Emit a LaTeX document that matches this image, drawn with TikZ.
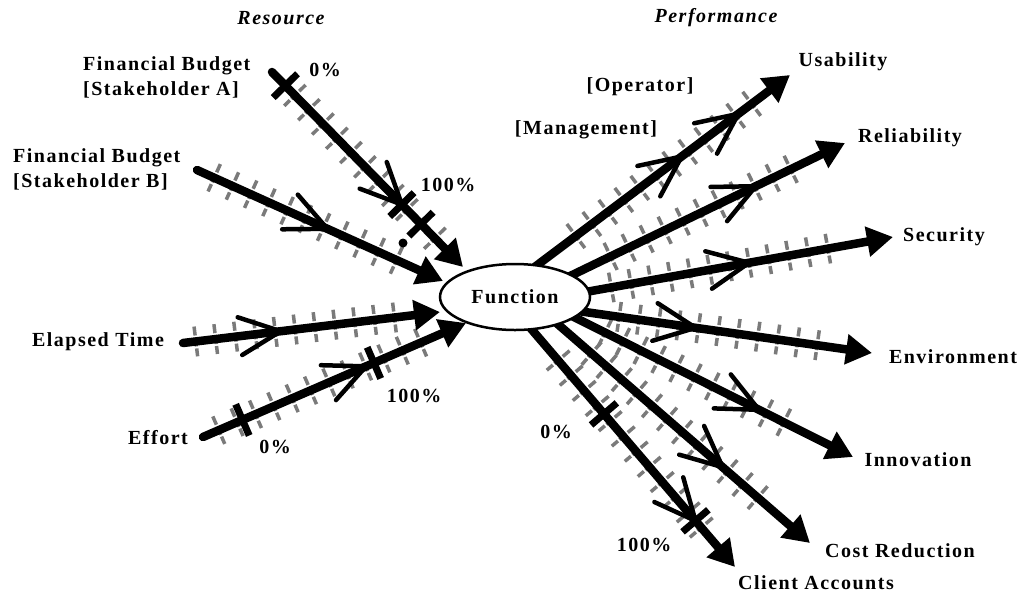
\documentclass[tikz,border=0pt]{standalone}
\usepackage{fontspec}
\setmainfont{Liberation Serif}[LetterSpace=7.5]
\usetikzlibrary{arrows.meta}
\usetikzlibrary{shapes.geometric}
\usetikzlibrary{decorations.markings}

\begin{document}
\begin{tikzpicture}[
        x=1pt, y=-1pt, % pixel-like units, y downwards
        font=\fontsize{20}{25}\selectfont\bfseries,
        % --- styles ---
        lbl/.style={inner sep=0pt},
        headline/.style={inner sep=0pt, font=\fontsize{20}{25}\selectfont\bfseries\itshape},
        axis/.style={line width=8.5pt, line cap=round, -{Triangle[length=26pt, width=29pt]}},
        tickmark/.style={-, black!52, line width=3.5pt, dash pattern=on 9pt off 2pt},
        ticks/.style 2 args={postaction={decorate, decoration={markings,
            mark=between positions #1 and #2 step 20pt with {\draw[tickmark] (0,-15) -- (0,15);}}}},
        chevron/.style={postaction={decorate, decoration={markings,
            mark=at position #1 with {\draw[-, line width=4.5pt, line cap=round, miter limit=20] (-41,-19) -- (0,0) -- (-41,19);}}}},
        crossbar/.style={postaction={decorate, decoration={markings,
            mark=at position #1 with {\draw[-, line width=7pt] (0,-17) -- (0,17);}}}},
        funcbox/.style={ellipse, draw, line width=2.5pt, fill=white, minimum width=150pt, minimum height=66pt, inner sep=0pt},
    ]
    \useasboundingbox (0,0) rectangle (1022,598);

    % --- end points of the axes ---
    \coordinate (fbA0) at (272,72);  \coordinate (fbA1) at (463,267);
    \coordinate (fbB0) at (197,170); \coordinate (fbB1) at (443,281);
    \coordinate (time0) at (183,343); \coordinate (time1) at (440,312);
    \coordinate (eff0) at (203,437); \coordinate (eff1) at (466,323);
    \coordinate (use0) at (532,269); \coordinate (use1) at (790,75);
    \coordinate (rel0) at (566,278); \coordinate (rel1) at (845,143);
    \coordinate (sec0) at (580,293); \coordinate (sec1) at (893,237);
    \coordinate (env0) at (578,311); \coordinate (env1) at (872,353);
    \coordinate (inn0) at (568,314); \coordinate (inn1) at (853,457);
    \coordinate (cost0) at (553,320); \coordinate (cost1) at (810,543);
    \coordinate (cli0) at (527,324); \coordinate (cli1) at (735,567);

    % --- grey scales under the axes ---
    \foreach \s/\ta/\tb in {fbA/0.12/0.87, fbB/0.07/0.88, time/0.05/0.84, eff/0.06/0.83,
                           use/0.17/0.87, rel/0.16/0.84, sec/0.1/0.8, env/0.14/0.86,
                           inn/0.13/0.8, cost/0.15/0.81, cli/0.15/0.89} {
        \path[ticks={\ta}{\tb}] (\s0) -- (\s1);
    }

    % --- axes with direction marks ---
    \foreach \s/\c in {fbA/0.68, fbB/0.53, time/0.38, eff/0.62, use/0.8, rel/0.68,
                      sec/0.54, env/0.4, inn/0.67, cost/0.66, cli/0.81} {
        \draw[axis] (\s0) -- (\s1);
        \path[chevron=\c] (\s0) -- (\s1);
    }
    \path[chevron=0.58] (use0) -- (use1);

    % --- 0% and 100% marks ---
    \path[crossbar=0.07, crossbar=0.68, crossbar=0.78] (fbA0) -- (fbA1);
    \path[crossbar=0.15, crossbar=0.65] (eff0) -- (eff1);
    \path[crossbar=0.37, crossbar=0.81] (cli0) -- (cli1);
    \fill (403,243) circle (4.5);

    % --- centre ---
    \node[funcbox] (func) at (515,297) {Function};

    % --- labels ---
    \node[headline] (res) at (281,18) {Resource};
    \node[headline] (perf) at (716,18) {Performance};

    \node[lbl, anchor=west, align=left] (fbA) at (83,77) {Financial Budget\\{}[Stakeholder A]};
    \node[lbl, anchor=west, align=left] (fbB) at (13,169) {Financial Budget\\{}[Stakeholder B]};
    \node[lbl] (time) at (98,342) {Elapsed Time};
    \node[lbl] (eff) at (158,438) {Effort};
    \node[lbl] (fbAlo) at (325,70) {0\%};
    \node[lbl] (fbAhi) at (448,185) {100\%};
    \node[lbl] (efflo) at (275,447) {0\%};
    \node[lbl] (effhi) at (414,396) {100\%};

    \node[lbl] (use) at (843,62) {Usability};
    \node[lbl] (oper) at (640,87) {[Operator]};
    \node[lbl] (mgmt) at (586,130) {[Management]};
    \node[lbl] (rel) at (910,138) {Reliability};
    \node[lbl] (sec) at (944,237) {Security};
    \node[lbl] (env) at (953,357) {Environment};
    \node[lbl] (inn) at (918,460) {Innovation};
    \node[lbl] (cost) at (900,551) {Cost Reduction};
    \node[lbl] (cli) at (816,583) {Client Accounts};
    \node[lbl] (clilo) at (556,432) {0\%};
    \node[lbl] (clihi) at (644,545) {100\%};
\end{tikzpicture}
\end{document}
